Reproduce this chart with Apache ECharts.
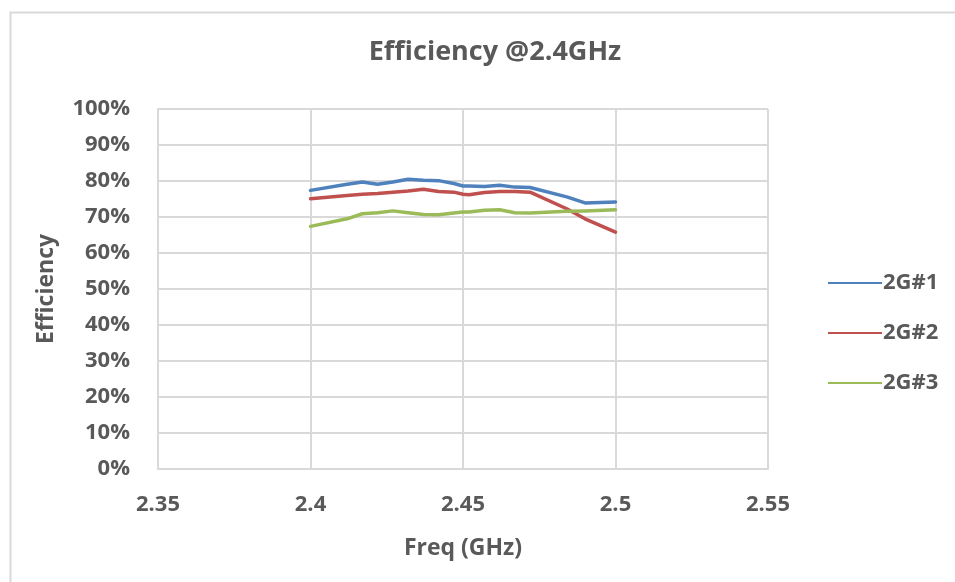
<!DOCTYPE html>
<html>
<head>
<meta charset="utf-8">
<script src="https://cdn.jsdelivr.net/npm/echarts@6/dist/echarts.min.js"></script>
<style>
html,body{margin:0;padding:0;background:#fff;}
#chart{width:955px;height:582px;}
</style>
</head>
<body>
<div id="chart"></div>
<script>
const freqs = [2.4, 2.412, 2.417, 2.422, 2.427, 2.432, 2.437, 2.442, 2.447, 2.45, 2.452, 2.457, 2.462, 2.467, 2.472, 2.484, 2.49, 2.5];
const s1 = [77.4, 79.1, 79.7, 79.1, 79.7, 80.5, 80.2, 80.1, 79.3, 78.6, 78.6, 78.5, 78.8, 78.3, 78.2, 75.6, 73.9, 74.2];
const s2 = [75.1, 76.0, 76.3, 76.5, 76.9, 77.2, 77.7, 77.1, 76.9, 76.3, 76.2, 76.8, 77.1, 77.1, 76.9, 72.3, 69.5, 65.8];
const s3 = [67.4, 69.5, 70.9, 71.2, 71.7, 71.2, 70.7, 70.6, 71.1, 71.4, 71.4, 71.9, 72.0, 71.2, 71.1, 71.6, 71.7, 72.0];
const seriesNames = ['2G#1', '2G#2', '2G#3'];
const colors = ['#4f81bd', '#c0504d', '#9bbb59'];
const titleText = 'Efficiency @2.4GHz';
const xName = 'Freq (GHz)';
const yName = 'Efficiency';

const font = '"Open Sans", sans-serif';
const textColor = '#595959';
const pair = arr => freqs.map((f, i) => [f, arr[i]]);

const chart = echarts.init(document.getElementById('chart'));
chart.setOption({
  animation: false,
  backgroundColor: '#fff',
  graphic: [{
    type: 'rect', left: 8, top: 10, silent: true,
    shape: {x: 0, y: 0, width: 960, height: 600},
    style: {fill: 'none', stroke: '#d9d9d9', lineWidth: 2}
  }],
  title: {
    text: titleText, left: 490, top: 34, textAlign: 'center',
    textStyle: {fontFamily: font, fontSize: 27, fontWeight: 'bold', color: textColor}
  },
  legend: {
    orient: 'vertical', left: 823, top: 265, itemGap: 24,
    itemWidth: 54, itemHeight: 26, icon: 'path://M0,12 L54,12 L54,14 L0,14 Z',
    data: seriesNames,
    textStyle: {fontFamily: font, fontSize: 22, fontWeight: 'bold', color: textColor, padding: [0, 0, 0, -4], lineHeight: 26}
  },
  grid: {left: 158, top: 109, right: 187, bottom: 113, containLabel: false},
  xAxis: {
    type: 'value', min: 2.35, max: 2.55, interval: 0.05,
    name: xName, nameLocation: 'middle', nameGap: 68,
    nameTextStyle: {fontFamily: font, fontSize: 23, fontWeight: 'bold', color: textColor},
    axisLine: {show: true, lineStyle: {color: '#d9d9d9', width: 2}},
    axisTick: {show: false},
    splitLine: {show: true, lineStyle: {color: '#d9d9d9', width: 2}},
    axisLabel: {
      fontFamily: font, fontSize: 22, fontWeight: 'bold', color: textColor, margin: 25,
      formatter: v => String(parseFloat(v.toFixed(2)))
    }
  },
  yAxis: {
    type: 'value', min: 0, max: 100, interval: 10,
    name: yName, nameLocation: 'middle', nameGap: 100, nameRotate: 90,
    nameTextStyle: {fontFamily: font, fontSize: 23, fontWeight: 'bold', color: textColor},
    axisLine: {show: true, lineStyle: {color: '#d9d9d9', width: 2}},
    axisTick: {show: false},
    splitLine: {show: true, lineStyle: {color: '#d9d9d9', width: 2}},
    axisLabel: {
      fontFamily: font, fontSize: 22, fontWeight: 'bold', color: textColor, margin: 28,
      formatter: '{value}%'
    }
  },
  series: [s1, s2, s3].map((d, i) => ({
    name: seriesNames[i], type: 'line', data: pair(d),
    showSymbol: false, symbol: 'none',
    lineStyle: {color: colors[i], width: 3.5, cap: 'round', join: 'round'},
    itemStyle: {color: colors[i]}
  }))
});
</script>
</body>
</html>
